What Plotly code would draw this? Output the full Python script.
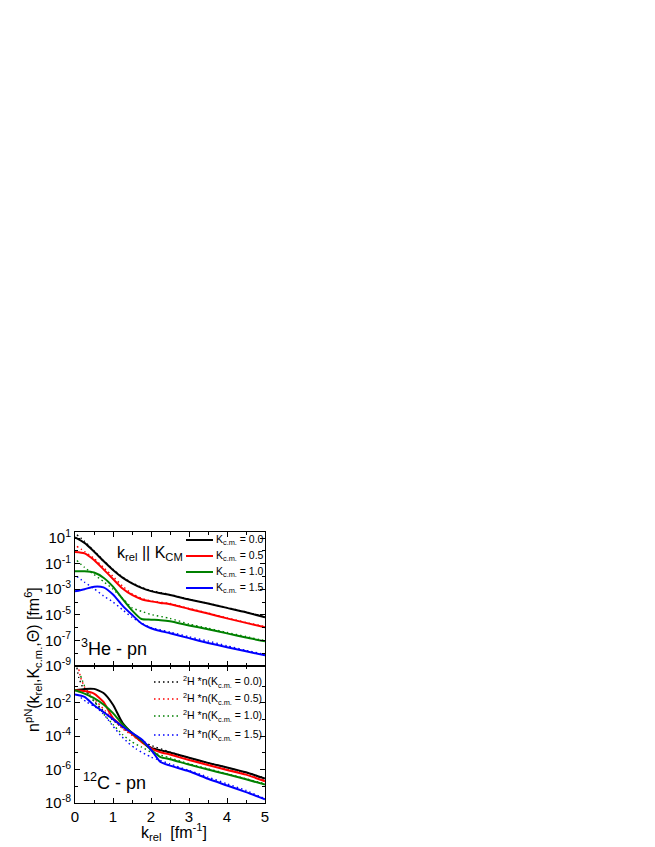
import plotly.graph_objects as go

# ---------------- data (values given as log10 of n) ----------------
x_grid = [0, 0.25, 0.5, 0.75, 1.0, 1.25, 1.5, 1.75, 2.0, 2.25, 2.5, 3.0, 3.5, 4.0, 4.5, 5.0]

# 3He - pn, full calculation
he_k00 = [1.05, 0.62, -0.05, -0.8, -1.5, -2.1, -2.55, -2.9, -3.15, -3.32, -3.45, -3.8, -4.12, -4.46, -4.8, -5.2]
he_k05 = [-0.09, -0.2, -0.72, -1.45, -2.2, -2.95, -3.45, -3.78, -3.95, -4.07, -4.17, -4.54, -4.9, -5.28, -5.63, -5.98]
he_k10 = [-1.6, -1.6, -1.7, -2.1, -2.8, -3.75, -4.65, -5.33, -5.38, -5.42, -5.5, -5.83, -6.13, -6.45, -6.78, -7.07]
he_k15 = [-3.17, -3.0, -2.8, -2.86, -3.42, -4.28, -5.0, -5.68, -6.05, -6.27, -6.44, -6.82, -7.2, -7.53, -7.85, -8.17]

# 3He - pn, 2H * n approximation
x_dot = [0.05, 0.25, 0.5, 0.75, 1.0, 1.25, 1.5, 1.75, 2.0, 2.5, 3.0, 3.5, 4.0, 4.5, 5.0]
he_d00 = [1.25, 0.75, 0.0, -0.75, -1.45, -2.05, -2.5, -2.85, -3.1, -3.42, -3.78, -4.1, -4.44, -4.78, -5.15]
he_d05 = [0.35, -0.05, -0.6, -1.3, -2.0, -2.75, -3.35, -3.72, -3.92, -4.12, -4.5, -4.86, -5.24, -5.6, -5.92]
he_d10 = [-0.75, -1.3, -1.85, -2.4, -3.0, -3.7, -4.45, -4.73, -4.98, -5.28, -5.72, -6.05, -6.38, -6.7, -7.02]
he_d15 = [-2.0, -2.45, -2.95, -3.52, -4.0, -4.6, -5.2, -5.65, -6.0, -6.35, -6.72, -7.05, -7.42, -7.78, -8.1]

# 12C - pn, full calculation
c_k00 = [-1.25, -1.17, -1.17, -1.42, -2.12, -3.2, -3.82, -4.3, -4.7, -4.85, -4.98, -5.29, -5.6, -5.87, -6.16, -6.54]
c_k05 = [-1.25, -1.3, -1.45, -1.95, -2.92, -3.4, -3.87, -4.35, -4.73, -4.96, -5.1, -5.43, -5.73, -6.02, -6.3, -6.7]
c_k10 = [-1.25, -1.45, -1.72, -2.1, -2.62, -3.28, -3.8, -4.25, -4.82, -5.25, -5.38, -5.7, -6.0, -6.28, -6.58, -6.9]
c_k15 = [-1.51, -1.65, -2.15, -2.55, -2.98, -3.42, -3.8, -4.18, -4.8, -5.55, -5.76, -6.1, -6.55, -6.95, -7.35, -7.78]

# 12C - pn, 2H * n approximation
c_x_d00 = [0.05, 0.1, 0.2, 0.35, 0.5, 0.75, 1.0, 1.25, 1.5, 1.75, 2.0, 2.5, 3.0, 3.5, 4.0, 4.5, 5.0]
c_d00 = [0.1, -0.5, -1.05, -1.5, -1.9, -2.5, -3.05, -3.5, -3.87, -4.25, -4.55, -4.95, -5.3, -5.6, -5.88, -6.18, -6.5]
c_x_d05 = [0.1, 0.15, 0.25, 0.4, 0.6, 0.8, 1.0, 1.25, 1.5, 1.75, 2.0, 2.5, 3.0, 3.5, 4.0, 4.5, 5.0]
c_d05 = [0.0, -0.5, -1.05, -1.5, -2.0, -2.5, -3.0, -3.55, -3.95, -4.35, -4.65, -5.05, -5.38, -5.68, -5.98, -6.28, -6.62]
c_x_d10 = [0.15, 0.25, 0.4, 0.6, 0.8, 1.0, 1.25, 1.5, 1.75, 2.0, 2.5, 3.0, 3.5, 4.0, 4.5, 5.0]
c_d10 = [-0.4, -1.0, -1.6, -2.2, -2.8, -3.3, -3.9, -4.35, -4.65, -4.95, -5.3, -5.65, -5.95, -6.25, -6.55, -6.85]
c_x_d15 = [0.05, 0.3, 0.5, 0.7, 0.85, 1.0, 1.2, 1.4, 1.6, 2.0, 2.5, 3.0, 3.5, 4.0, 4.5, 5.0]
c_d15 = [-1.5, -1.95, -2.2, -2.55, -2.95, -3.4, -3.95, -4.4, -4.75, -5.25, -5.66, -6.05, -6.45, -6.85, -7.25, -7.75]

kcm_labels = ["0.0", "0.5", "1.0", "1.5"]
colors = ["#000000", "#ff0000", "#008000", "#0000ff"]

top_ticks = [1, -1, -3, -5, -7, -9]
bot_ticks = [-2, -4, -6, -8]

FONT = "Liberation Sans, Arial, sans-serif"
DOT = "1.5px,3px"
SMOOTH = 0.55


def lin(v):
    return [10 ** a for a in v]


fig = go.Figure()

# top panel (xaxis2 / yaxis2)
for ys, c in zip([he_d00, he_d05, he_d10, he_d15], colors):
    fig.add_trace(go.Scatter(x=x_dot, y=lin(ys), mode="lines", xaxis="x2", yaxis="y2",
                             line=dict(color=c, width=1.4, dash=DOT, shape="spline", smoothing=SMOOTH),
                             showlegend=False, hoverinfo="skip"))
for ys, c in zip([he_k00, he_k05, he_k10, he_k15], colors):
    fig.add_trace(go.Scatter(x=x_grid, y=lin(ys), mode="lines", xaxis="x2", yaxis="y2",
                             line=dict(color=c, width=2, shape="spline", smoothing=SMOOTH),
                             showlegend=False, hoverinfo="skip"))

# bottom panel
for xs, ys, c in zip([c_x_d00, c_x_d05, c_x_d10, c_x_d15], [c_d00, c_d05, c_d10, c_d15], colors):
    fig.add_trace(go.Scatter(x=xs, y=lin(ys), mode="lines", xaxis="x", yaxis="y",
                             line=dict(color=c, width=1.4, dash=DOT, shape="spline", smoothing=SMOOTH),
                             showlegend=False, hoverinfo="skip"))
for ys, c in zip([c_k00, c_k05, c_k10, c_k15], colors):
    fig.add_trace(go.Scatter(x=x_grid, y=lin(ys), mode="lines", xaxis="x", yaxis="y",
                             line=dict(color=c, width=2, shape="spline", smoothing=SMOOTH),
                             showlegend=False, hoverinfo="skip"))

# geometry (pixels)
L, R, T, B = 67, 257, 524, 795
W_PX, H_PX = R - L, B - T
split = 658
dom_split = (B - split) / H_PX


def px(xp):
    return (xp - L) / W_PX


def py(yp):
    return (B - yp) / H_PX


axis_common = dict(showline=True, linecolor="black", linewidth=1, mirror="allticks",
                   ticks="inside", tickcolor="black", ticklen=5, showgrid=False, zeroline=False,
                   automargin=False,
                   tickfont=dict(family=FONT, size=15, color="black"))

fig.update_layout(
    width=655, height=847,
    margin=dict(l=L, r=655 - R, t=T, b=847 - B, autoexpand=False),
    paper_bgcolor="white", plot_bgcolor="white",
    font=dict(family=FONT, color="black"),
    xaxis=dict(domain=[0, 1], anchor="y", range=[0, 5], tickvals=[0, 1, 2, 3, 4, 5],
               minor=dict(tickvals=[0.5, 1.5, 2.5, 3.5, 4.5], ticks="inside", ticklen=3, tickcolor="black"),
               **axis_common),
    xaxis2=dict(domain=[0, 1], anchor="y2", range=[0, 5], matches="x", tickvals=[0, 1, 2, 3, 4, 5],
                showticklabels=False,
                minor=dict(tickvals=[0.5, 1.5, 2.5, 3.5, 4.5], ticks="inside", ticklen=3, tickcolor="black"),
                **axis_common),
    yaxis=dict(domain=[0, dom_split], anchor="x", type="log", range=[-8, 0.2],
               tickvals=[10 ** k for k in bot_ticks],
               ticktext=["10<sup>%d</sup>" % k for k in bot_ticks],
               minor=dict(tickvals=[10 ** k for k in [-7, -5, -3, -1]], ticks="inside", ticklen=3, tickcolor="black"),
               **axis_common),
    yaxis2=dict(domain=[dom_split, 1], anchor="x2", type="log", range=[-9, 1.47],
                tickvals=[10 ** k for k in top_ticks],
                ticktext=["10<sup>%d</sup>" % k for k in top_ticks],
                minor=dict(tickvals=[10 ** k for k in [0, -2, -4, -6, -8]], ticks="inside", ticklen=3, tickcolor="black"),
                **axis_common),
)

ann = []
shapes = []

# axis titles
ann.append(dict(text="n<sup>pN</sup>(k<sub>rel</sub>,K<sub>c.m.</sub>,\u0398) [fm<sup>6</sup>]",
                xref="paper", yref="paper", x=px(25), y=py(652), textangle=-90,
                showarrow=False, font=dict(family=FONT, size=16), xanchor="center", yanchor="middle"))
ann.append(dict(text="k<sub>rel</sub>  [fm<sup>-1</sup>]", xref="paper", yref="paper",
                x=px(166), y=py(824), showarrow=False, font=dict(family=FONT, size=16),
                xanchor="center", yanchor="middle"))

# in-panel labels
ann.append(dict(text="k<sub>rel</sub> || K<sub>CM</sub>", xref="paper", yref="paper",
                x=px(142), y=py(545), showarrow=False, font=dict(family=FONT, size=16),
                xanchor="center", yanchor="middle"))
ann.append(dict(text="<sup>3</sup>He - pn", xref="paper", yref="paper",
                x=px(106), y=py(639), showarrow=False, font=dict(family=FONT, size=18),
                xanchor="center", yanchor="middle"))
ann.append(dict(text="<sup>12</sup>C - pn", xref="paper", yref="paper",
                x=px(106), y=py(773), showarrow=False, font=dict(family=FONT, size=18),
                xanchor="center", yanchor="middle"))

# legend, top panel (solid lines)
top_rows = [532, 548, 564, 580]
for yr, c, k in zip(top_rows, colors, kcm_labels):
    shapes.append(dict(type="line", xref="paper", yref="paper", x0=px(178), x1=px(205),
                       y0=py(yr), y1=py(yr), line=dict(color=c, width=2)))
    ann.append(dict(text="K<sub>c.m.</sub> = %s" % k, xref="paper", yref="paper",
                    x=px(205.5), y=py(yr), xanchor="left", yanchor="middle", showarrow=False,
                    font=dict(family=FONT, size=10.5)))

# legend, bottom panel (dotted lines)
bot_rows = [674, 691, 708, 727]
for yr, c, k in zip(bot_rows, colors, kcm_labels):
    shapes.append(dict(type="line", xref="paper", yref="paper", x0=px(146), x1=px(172),
                       y0=py(yr), y1=py(yr), line=dict(color=c, width=1.4, dash=DOT)))
    ann.append(dict(text="<sup>2</sup>H *n(K<sub>c.m.</sub> = %s)" % k, xref="paper", yref="paper",
                    x=px(173), y=py(yr), xanchor="left", yanchor="middle", showarrow=False,
                    font=dict(family=FONT, size=10.5)))

fig.update_layout(annotations=ann, shapes=shapes)

fig.write_html("out.html")
